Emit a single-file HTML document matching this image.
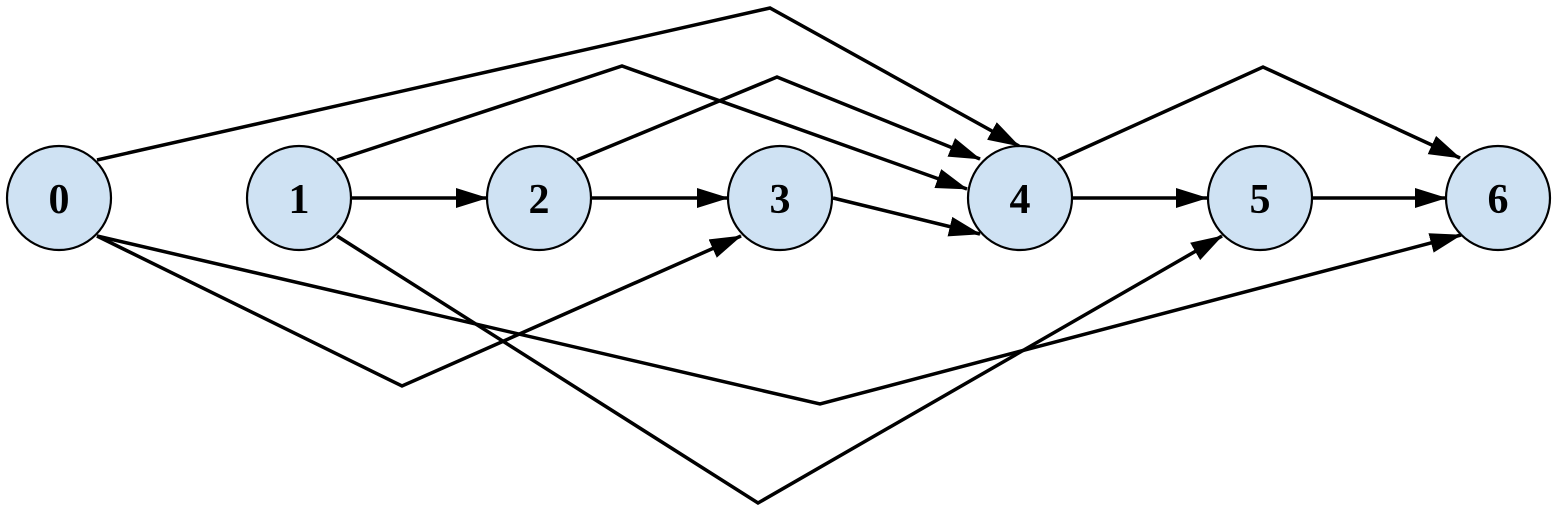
<!DOCTYPE html>
<html><head><meta charset="utf-8"><style>html,body{margin:0;padding:0;background:#fff}</style></head>
<body>
<svg width="1559" height="515" viewBox="0 0 1559 515" xmlns="http://www.w3.org/2000/svg">
<defs>
<marker id="a" markerUnits="userSpaceOnUse" markerWidth="34" markerHeight="22" refX="31" refY="10" orient="auto">
<path d="M0,0 L32,10 L0,20 Z" fill="#000"/>
</marker>
</defs>
<g fill="none" stroke="#000" stroke-width="3.5" marker-end="url(#a)">
<polyline points="97,160 770,8 1019,146"/>
<polyline points="337,160 622,66 967,189"/>
<polyline points="577,160 777,77 980,159"/>
<line x1="352" y1="198" x2="487" y2="198"/>
<line x1="592" y1="198" x2="728" y2="198"/>
<line x1="833" y1="198" x2="980" y2="234"/>
<line x1="1073" y1="198" x2="1207" y2="198"/>
<line x1="1313" y1="198" x2="1446" y2="198"/>
<polyline points="1058,160 1263,67 1460,158"/>
<polyline points="97,236 402,386 741,236"/>
<polyline points="97,236 820,404 1461,235"/>
<polyline points="337,236 758,503 1222,236"/>
</g>
<g fill="#cfe2f3" stroke="#000" stroke-width="2.2">
<circle cx="59" cy="198" r="52"/>
<circle cx="299" cy="198" r="52"/>
<circle cx="539" cy="198" r="52"/>
<circle cx="780" cy="198" r="52"/>
<circle cx="1020" cy="198" r="52"/>
<circle cx="1260" cy="198" r="52"/>
<circle cx="1498" cy="198" r="52"/>
</g>
<g font-family="Liberation Serif, serif" font-weight="bold" font-size="42" text-anchor="middle">
<text x="59" y="213">0</text>
<text x="299" y="213">1</text>
<text x="539" y="213">2</text>
<text x="780" y="213">3</text>
<text x="1020" y="213">4</text>
<text x="1260" y="213">5</text>
<text x="1498" y="213">6</text>
</g>
</svg>
</body></html>
